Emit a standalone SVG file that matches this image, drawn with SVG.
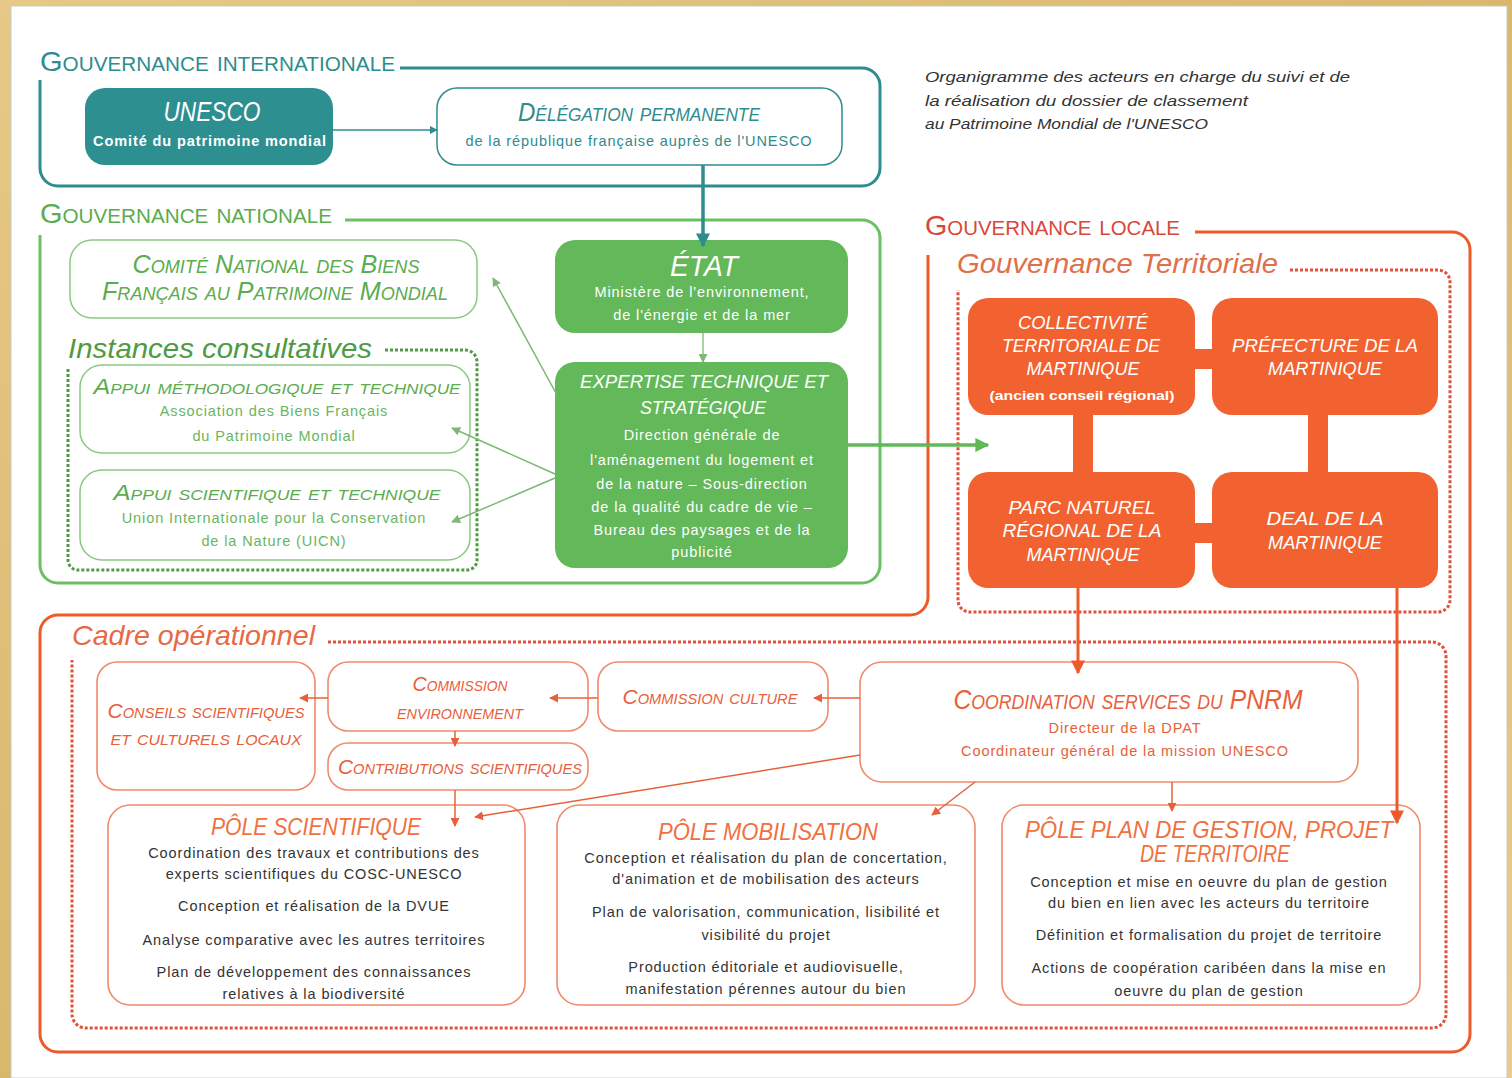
<svg xmlns="http://www.w3.org/2000/svg" width="1512" height="1078" viewBox="0 0 1512 1078">
<defs>
<linearGradient id="gold" x1="0" y1="0" x2="1" y2="1">
<stop offset="0" stop-color="#e6c987"/><stop offset="0.5" stop-color="#d9b86e"/><stop offset="1" stop-color="#e8cd8e"/>
</linearGradient>
<marker id="aTeal" viewBox="0 0 10 10" refX="9" refY="5" markerWidth="8" markerHeight="8" markerUnits="userSpaceOnUse" orient="auto"><path d="M0,0 L10,5 L0,10 z" fill="#2e8c8e"/></marker>
<marker id="aTealBig" viewBox="0 0 10 10" refX="9" refY="5" markerWidth="14" markerHeight="14" markerUnits="userSpaceOnUse" orient="auto"><path d="M0,0 L10,5 L0,10 z" fill="#2e8c8e"/></marker>
<marker id="aGreen" viewBox="0 0 10 10" refX="9" refY="5" markerWidth="9" markerHeight="9" markerUnits="userSpaceOnUse" orient="auto"><path d="M0,0 L10,5 L0,10 z" fill="#7db874"/></marker>
<marker id="aGreenBig" viewBox="0 0 10 10" refX="9" refY="5" markerWidth="14" markerHeight="14" markerUnits="userSpaceOnUse" orient="auto"><path d="M0,0 L10,5 L0,10 z" fill="#5fb957"/></marker>
<marker id="aOr" viewBox="0 0 10 10" refX="9" refY="5" markerWidth="9" markerHeight="9" markerUnits="userSpaceOnUse" orient="auto"><path d="M0,0 L10,5 L0,10 z" fill="#e8603a"/></marker>
<marker id="aOrBig" viewBox="0 0 10 10" refX="9" refY="5" markerWidth="14" markerHeight="14" markerUnits="userSpaceOnUse" orient="auto"><path d="M0,0 L10,5 L0,10 z" fill="#ee5a2a"/></marker>
</defs>
<style>
text { font-family: "Liberation Sans", Arial, sans-serif; }
.title { font-variant: small-caps; font-size: 28px; }
.ital { font-style: italic; font-size: 28px; }
.hd { font-style: italic; font-variant: small-caps; }
.body { font-size: 14.5px; letter-spacing: 0.9px; text-anchor: middle; }
.mid { text-anchor: middle; }
.teal { fill: #2e8c8e; }
.green { fill: #5aac4e; }
.white { fill: #ffffff; }
.orT { fill: #e8603a; }
.dark { fill: #333333; }
.frame { fill: none; stroke-width: 3; }
.dot { fill: none; stroke-width: 3; stroke-dasharray: 3 2; }
.box { stroke-width: 1.5; fill: #ffffff; }
.obox { fill: #ffffff; stroke: #ef8a6a; stroke-width: 1.6; }
.gbox { fill: #63b85a; }
.rbox { fill: #f26230; }
</style>

<rect x="0" y="0" width="1512" height="1078" fill="url(#gold)"/>
<rect x="11" y="6" width="1496" height="1072" fill="#ffffff" stroke="#c8c8c8" stroke-width="1"/>

<!-- frames -->
<g id="frame-international">
<path class="frame" stroke="#2e8c8e" d="M400 68 H862 A18 18 0 0 1 880 86 V168 A18 18 0 0 1 862 186 H58 A18 18 0 0 1 40 168 V80"/>
<text class="title teal" x="40" y="71" textLength="355" lengthAdjust="spacingAndGlyphs">Gouvernance internationale</text>
</g>
<g id="frame-nationale">
<path class="frame" stroke="#6cbf62" d="M345 220 H862 A18 18 0 0 1 880 238 V565 A18 18 0 0 1 862 583 H58 A18 18 0 0 1 40 565 V235"/>
<text class="title green" x="40" y="223" textLength="292" lengthAdjust="spacingAndGlyphs">Gouvernance nationale</text>
</g>
<g id="frame-locale">
<path class="frame" stroke="#ee5a2a" d="M1195 232 H1452 A18 18 0 0 1 1470 250 V1034 A18 18 0 0 1 1452 1052 H58 A18 18 0 0 1 40 1034 V633 A18 18 0 0 1 58 615 H910 A18 18 0 0 0 928 597 V255"/>
<text class="title" fill="#d9473a" x="925" y="235" textLength="255" lengthAdjust="spacingAndGlyphs">Gouvernance locale</text>
</g>
<g id="frame-instances">
<path class="dot" stroke="#4f9a42" d="M385 350 H465 A12 12 0 0 1 477 362 V560 A10 10 0 0 1 467 570 H78 A10 10 0 0 1 68 560 V368"/>
<text class="ital" fill="#4f9a42" x="68" y="358" textLength="304" lengthAdjust="spacingAndGlyphs">Instances consultatives</text>
</g>
<g id="frame-territoriale">
<path class="dot" stroke="#e0503a" d="M1290 270 H1438 A12 12 0 0 1 1450 282 V600 A12 12 0 0 1 1438 612 H970 A12 12 0 0 1 958 600 V290"/>
<text class="ital" fill="#e0704a" x="957" y="273" textLength="321" lengthAdjust="spacingAndGlyphs">Gouvernance Territoriale</text>
</g>
<g id="frame-cadre">
<path class="dot" stroke="#e0503a" d="M328 642 H1432 A14 14 0 0 1 1446 656 V1014 A14 14 0 0 1 1432 1028 H86 A14 14 0 0 1 72 1014 V660"/>
<text class="ital" fill="#e86a45" x="72" y="645" textLength="243" lengthAdjust="spacingAndGlyphs">Cadre opérationnel</text>
</g>

<g id="caption" font-style="italic" font-size="15.5" fill="#333333">
<text x="925" y="82" textLength="425" lengthAdjust="spacingAndGlyphs">Organigramme des acteurs en charge du suivi et de</text>
<text x="925" y="106" textLength="323" lengthAdjust="spacingAndGlyphs">la réalisation du dossier de classement</text>
<text x="925" y="129" textLength="283" lengthAdjust="spacingAndGlyphs">au Patrimoine Mondial de l'UNESCO</text>
</g>

<!-- international nodes -->
<g id="unesco">
<rect x="85" y="88" width="248" height="77" rx="20" fill="#2e8f91"/>
<text class="mid white" x="212" y="121" font-size="28" font-style="italic" textLength="97" lengthAdjust="spacingAndGlyphs">UNESCO</text>
<text class="body white" x="210" y="146" font-weight="bold" font-size="13.5" letter-spacing="0.6">Comité du patrimoine mondial</text>
</g>
<g id="delegation">
<rect class="box" x="437" y="88" width="405" height="77" rx="20" stroke="#2e8c8e"/>
<text class="hd mid teal" x="639" y="121" font-size="25" textLength="242" lengthAdjust="spacingAndGlyphs">Délégation permanente</text>
<text class="body teal" x="639" y="146" letter-spacing="1.1">de la république française auprès de l'UNESCO</text>
</g>

<!-- national nodes -->
<g id="comite-national">
<rect class="box" x="70" y="240" width="407" height="78" rx="22" stroke="#8cc884"/>
<text class="hd mid green" x="276" y="273" font-size="25" textLength="287" lengthAdjust="spacingAndGlyphs">Comité National des Biens</text>
<text class="hd mid green" x="275" y="300" font-size="25" textLength="346" lengthAdjust="spacingAndGlyphs">Français au Patrimoine Mondial</text>
</g>
<g id="appui-methodologique">
<rect class="box" x="80" y="365" width="390" height="88" rx="22" stroke="#8cc884"/>
<text class="hd mid green" x="277" y="394" font-size="22" textLength="367" lengthAdjust="spacingAndGlyphs">Appui méthodologique et technique</text>
<text class="body" fill="#6ab560" x="274" y="416" font-size="13.5">Association des Biens Français</text>
<text class="body" fill="#6ab560" x="274" y="441" font-size="13.5">du Patrimoine Mondial</text>
</g>
<g id="appui-scientifique">
<rect class="box" x="80" y="470" width="390" height="90" rx="22" stroke="#8cc884"/>
<text class="hd mid green" x="277" y="500" font-size="22" textLength="327" lengthAdjust="spacingAndGlyphs">Appui scientifique et technique</text>
<text class="body" fill="#6ab560" x="274" y="523" font-size="13.5">Union Internationale pour la Conservation</text>
<text class="body" fill="#6ab560" x="274" y="546" font-size="13.5">de la Nature (UICN)</text>
</g>
<g id="etat">
<rect class="gbox" x="555" y="240" width="293" height="93" rx="20"/>
<text class="mid white" x="704" y="276" font-size="30" font-style="italic" textLength="68" lengthAdjust="spacingAndGlyphs">ÉTAT</text>
<text class="body white" x="702" y="297">Ministère de l'environnement,</text>
<text class="body white" x="702" y="320">de l'énergie et de la mer</text>
</g>
<g id="expertise">
<rect class="gbox" x="555" y="362" width="293" height="206" rx="20"/>
<text class="mid white" x="704" y="388" font-size="19" font-style="italic" textLength="248" lengthAdjust="spacingAndGlyphs">EXPERTISE TECHNIQUE ET</text>
<text class="mid white" x="703" y="414" font-size="19" font-style="italic" textLength="126" lengthAdjust="spacingAndGlyphs">STRATÉGIQUE</text>
<text class="body white" x="702" y="440">Direction générale de</text>
<text class="body white" x="702" y="465">l'aménagement du logement et</text>
<text class="body white" x="702" y="489">de la nature – Sous-direction</text>
<text class="body white" x="702" y="512">de la qualité du cadre de vie –</text>
<text class="body white" x="702" y="535">Bureau des paysages et de la</text>
<text class="body white" x="702" y="557">publicité</text>
</g>

<!-- local nodes -->
<g id="collectivite" font-style="italic" font-size="18">
<rect class="rbox" x="968" y="298" width="227" height="117" rx="20"/>
<text class="mid white" x="1083" y="329" textLength="130" lengthAdjust="spacingAndGlyphs">COLLECTIVITÉ</text>
<text class="mid white" x="1081" y="352" textLength="158" lengthAdjust="spacingAndGlyphs">TERRITORIALE DE</text>
<text class="mid white" x="1083" y="375" textLength="113" lengthAdjust="spacingAndGlyphs">MARTINIQUE</text>
<text class="mid white" x="1082" y="400" font-style="normal" font-weight="bold" font-size="13.5" textLength="185" lengthAdjust="spacingAndGlyphs">(ancien conseil régional)</text>
</g>
<g id="prefecture" font-style="italic" font-size="18">
<rect class="rbox" x="1212" y="298" width="226" height="117" rx="20"/>
<text class="mid white" x="1325" y="352" textLength="186" lengthAdjust="spacingAndGlyphs">PRÉFECTURE DE LA</text>
<text class="mid white" x="1325" y="375" textLength="114" lengthAdjust="spacingAndGlyphs">MARTINIQUE</text>
</g>
<g id="parc" font-style="italic" font-size="18">
<rect class="rbox" x="968" y="472" width="227" height="116" rx="20"/>
<text class="mid white" x="1082" y="514" textLength="147" lengthAdjust="spacingAndGlyphs">PARC NATUREL</text>
<text class="mid white" x="1082" y="537" textLength="159" lengthAdjust="spacingAndGlyphs">RÉGIONAL DE LA</text>
<text class="mid white" x="1083" y="561" textLength="113" lengthAdjust="spacingAndGlyphs">MARTINIQUE</text>
</g>
<g id="deal" font-style="italic" font-size="18">
<rect class="rbox" x="1212" y="472" width="226" height="116" rx="20"/>
<text class="mid white" x="1325" y="525" textLength="117" lengthAdjust="spacingAndGlyphs">DEAL DE LA</text>
<text class="mid white" x="1325" y="549" textLength="114" lengthAdjust="spacingAndGlyphs">MARTINIQUE</text>
</g>

<!-- operational nodes -->
<g id="conseils">
<rect class="obox" x="97" y="662" width="218" height="128" rx="20"/>
<text class="hd mid orT" x="206" y="718" font-size="20" textLength="197" lengthAdjust="spacingAndGlyphs">Conseils scientifiques</text>
<text class="hd mid orT" x="206" y="745" font-size="20" textLength="191" lengthAdjust="spacingAndGlyphs">et culturels locaux</text>
</g>
<g id="commission-environnement">
<rect class="obox" x="328" y="662" width="260" height="69" rx="20"/>
<text class="hd mid orT" x="460" y="691" font-size="20" textLength="95" lengthAdjust="spacingAndGlyphs">Commission</text>
<text class="hd mid orT" x="460" y="719" font-size="20" textLength="126" lengthAdjust="spacingAndGlyphs">environnement</text>
</g>
<g id="contributions">
<rect class="obox" x="328" y="743" width="260" height="47" rx="20"/>
<text class="hd mid orT" x="460" y="774" font-size="20" textLength="244" lengthAdjust="spacingAndGlyphs">Contributions scientifiques</text>
</g>
<g id="commission-culture">
<rect class="obox" x="598" y="662" width="230" height="69" rx="20"/>
<text class="hd mid orT" x="710" y="704" font-size="20" textLength="175" lengthAdjust="spacingAndGlyphs">Commission culture</text>
</g>
<g id="coordination">
<rect class="obox" x="860" y="662" width="498" height="120" rx="22"/>
<text class="hd mid orT" x="1128" y="709" font-size="28" textLength="349" lengthAdjust="spacingAndGlyphs">Coordination services du PNRM</text>
<text class="body orT" x="1125" y="733" font-size="13.5">Directeur de la DPAT</text>
<text class="body orT" x="1125" y="756" font-size="13.5">Coordinateur général de la mission UNESCO</text>
</g>
<g id="pole-scientifique">
<rect class="obox" x="108" y="805" width="417" height="200" rx="22"/>
<text class="mid" fill="#f07040" x="316" y="835" font-size="24" font-style="italic" textLength="210" lengthAdjust="spacingAndGlyphs">PÔLE SCIENTIFIQUE</text>
<text class="body dark" x="314" y="858">Coordination des travaux et contributions des</text>
<text class="body dark" x="314" y="879">experts scientifiques du COSC-UNESCO</text>
<text class="body dark" x="314" y="911">Conception et réalisation de la DVUE</text>
<text class="body dark" x="314" y="945">Analyse comparative avec les autres territoires</text>
<text class="body dark" x="314" y="977">Plan de développement des connaissances</text>
<text class="body dark" x="314" y="999">relatives à la biodiversité</text>
</g>
<g id="pole-mobilisation">
<rect class="obox" x="557" y="805" width="418" height="200" rx="22"/>
<text class="mid" fill="#f07040" x="768" y="840" font-size="24" font-style="italic" textLength="220" lengthAdjust="spacingAndGlyphs">PÔLE MOBILISATION</text>
<text class="body dark" x="766" y="863">Conception et réalisation du plan de concertation,</text>
<text class="body dark" x="766" y="884">d'animation et de mobilisation des acteurs</text>
<text class="body dark" x="766" y="917">Plan de valorisation, communication, lisibilité et</text>
<text class="body dark" x="766" y="940">visibilité du projet</text>
<text class="body dark" x="766" y="972">Production éditoriale et audiovisuelle,</text>
<text class="body dark" x="766" y="994">manifestation pérennes autour du bien</text>
</g>
<g id="pole-plan-gestion">
<rect class="obox" x="1002" y="805" width="418" height="200" rx="22"/>
<text class="mid" fill="#f07040" x="1209" y="838" font-size="24" font-style="italic" textLength="368" lengthAdjust="spacingAndGlyphs">PÔLE PLAN DE GESTION, PROJET</text>
<text class="mid" fill="#f07040" x="1215" y="862" font-size="24" font-style="italic" textLength="150" lengthAdjust="spacingAndGlyphs">DE TERRITOIRE</text>
<text class="body dark" x="1209" y="887">Conception et mise en oeuvre du plan de gestion</text>
<text class="body dark" x="1209" y="908">du bien en lien avec les acteurs du territoire</text>
<text class="body dark" x="1209" y="940">Définition et formalisation du projet de territoire</text>
<text class="body dark" x="1209" y="973">Actions de coopération caribéen dans la mise en</text>
<text class="body dark" x="1209" y="996">oeuvre du plan de gestion</text>
</g>

<!-- connectors (drawn above nodes so arrowheads show) -->
<g id="connectors">
<line x1="333" y1="130" x2="437" y2="130" stroke="#2e8c8e" stroke-width="1.5" marker-end="url(#aTeal)"/>
<line x1="703" y1="165" x2="703" y2="246" stroke="#2e8c8e" stroke-width="3.5" marker-end="url(#aTealBig)"/>
<line x1="703" y1="333" x2="703" y2="362" stroke="#7db874" stroke-width="1.3" marker-end="url(#aGreen)"/>
<line x1="557" y1="395" x2="493" y2="278" stroke="#7db874" stroke-width="1.5" marker-end="url(#aGreen)"/>
<line x1="555" y1="474" x2="452" y2="428" stroke="#7db874" stroke-width="1.5" marker-end="url(#aGreen)"/>
<line x1="555" y1="478" x2="452" y2="522" stroke="#7db874" stroke-width="1.5" marker-end="url(#aGreen)"/>
<line x1="848" y1="445" x2="988" y2="445" stroke="#5fb957" stroke-width="3.5" marker-end="url(#aGreenBig)"/>
<line x1="1195" y1="359" x2="1212" y2="359" stroke="#f26230" stroke-width="20"/>
<line x1="1195" y1="533" x2="1212" y2="533" stroke="#f26230" stroke-width="20"/>
<line x1="1083" y1="415" x2="1083" y2="472" stroke="#f26230" stroke-width="20"/>
<line x1="1318" y1="415" x2="1318" y2="472" stroke="#f26230" stroke-width="20"/>
<line x1="1078" y1="588" x2="1078" y2="673" stroke="#ee5a2a" stroke-width="3" marker-end="url(#aOrBig)"/>
<line x1="1397" y1="588" x2="1397" y2="823" stroke="#ee5a2a" stroke-width="3" marker-end="url(#aOrBig)"/>
<line x1="860" y1="698" x2="814" y2="698" stroke="#e8603a" stroke-width="1.5" marker-end="url(#aOr)"/>
<line x1="598" y1="698" x2="550" y2="698" stroke="#e8603a" stroke-width="1.5" marker-end="url(#aOr)"/>
<line x1="328" y1="698" x2="300" y2="698" stroke="#e8603a" stroke-width="1.5" marker-end="url(#aOr)"/>
<line x1="455" y1="731" x2="455" y2="746" stroke="#e8603a" stroke-width="1.5" marker-end="url(#aOr)"/>
<line x1="455" y1="790" x2="455" y2="826" stroke="#e8603a" stroke-width="1.5" marker-end="url(#aOr)"/>
<line x1="860" y1="755" x2="475" y2="817" stroke="#e8603a" stroke-width="1.5" marker-end="url(#aOr)"/>
<line x1="975" y1="782" x2="932" y2="815" stroke="#e8603a" stroke-width="1.5" marker-end="url(#aOr)"/>
<line x1="1172" y1="782" x2="1172" y2="811" stroke="#e8603a" stroke-width="1.5" marker-end="url(#aOr)"/>
</g>
</svg>
